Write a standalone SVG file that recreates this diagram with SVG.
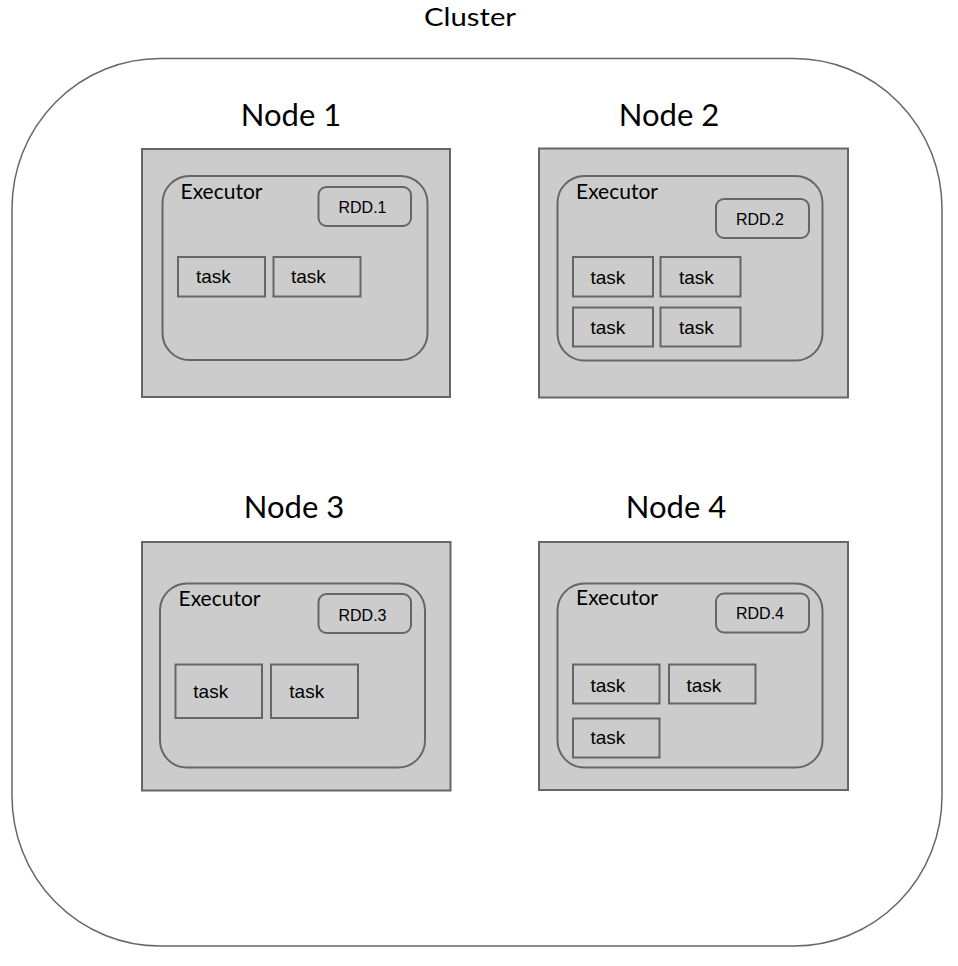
<svg xmlns="http://www.w3.org/2000/svg" width="958" height="966" viewBox="0 0 958 966">
<style>
.title{font-family:Lato,"Open Sans",sans-serif;fill:#000;text-anchor:middle}
.cl{font-size:25.5px}
.nt{font-size:31px}
.box{fill:#cccccc;stroke:#666666;stroke-width:2}
.exec{fill:#cccccc;stroke:#666666;stroke-width:2}
.rdd{fill:#cccccc;stroke:#666666;stroke-width:2}
.task{fill:#cccccc;stroke:#666666;stroke-width:2}
.et{font-family:Lato,"Open Sans",sans-serif;font-size:21px;fill:#000}
.tt{font-family:"Liberation Sans",Arial,sans-serif;font-size:19px;fill:#000}
.rt{font-family:"Liberation Sans",Arial,sans-serif;font-size:16px;fill:#000}
</style>
<rect width="958" height="966" fill="#ffffff"/>
<g id="cluster">
<path d="M160,58.5 H794 A148,150 0 0 1 942,208.5 V796 A148,150 0 0 1 794,946 H160 A148,150 0 0 1 12,796 V208.5 A148,150 0 0 1 160,58.5 Z" fill="#ffffff" stroke="#666666" stroke-width="1.5"/>
<text class="title cl" x="470" y="26" textLength="92" lengthAdjust="spacingAndGlyphs">Cluster</text>
</g>
<g id="connectors"></g>
<g id="node1">
<text class="title nt" x="291" y="126">Node 1</text>
<rect class="box" x="142" y="149" width="308" height="248"/>
<rect class="exec" x="162.5" y="176" width="265" height="184" rx="27"/>
<text class="et" x="180.5" y="199">Executor</text>
<rect class="rdd" x="318.5" y="187" width="92.5" height="39" rx="8"/>
<text class="rt" x="338.5" y="213.3">RDD.1</text>
<rect class="task" x="178" y="257" width="87" height="39.5"/>
<text class="tt" x="196" y="283.3">task</text>
<rect class="task" x="273.5" y="257" width="87" height="39.5"/>
<text class="tt" x="291" y="283.3">task</text>
</g>
<g id="node2">
<text class="title nt" x="669" y="126">Node 2</text>
<rect class="box" x="539" y="148.5" width="309" height="249"/>
<rect class="exec" x="557.5" y="176" width="265" height="184.5" rx="27"/>
<text class="et" x="576" y="199.3">Executor</text>
<rect class="rdd" x="716" y="199" width="93" height="39" rx="8"/>
<text class="rt" x="736" y="225">RDD.2</text>
<rect class="task" x="573" y="257" width="80" height="39.5"/>
<text class="tt" x="590.5" y="284">task</text>
<rect class="task" x="660.5" y="257" width="80" height="39.5"/>
<text class="tt" x="679" y="284">task</text>
<rect class="task" x="573" y="307.5" width="80" height="39"/>
<text class="tt" x="590.5" y="334.3">task</text>
<rect class="task" x="660.5" y="307.5" width="80" height="39"/>
<text class="tt" x="679" y="334.3">task</text>
</g>
<g id="node3">
<text class="title nt" x="294" y="518.3">Node 3</text>
<rect class="box" x="142" y="542" width="308.5" height="248.5"/>
<rect class="exec" x="160" y="583.5" width="265" height="184" rx="27"/>
<text class="et" x="178.5" y="606">Executor</text>
<rect class="rdd" x="318.5" y="594" width="92.5" height="39" rx="8"/>
<text class="rt" x="338.5" y="620.7">RDD.3</text>
<rect class="task" x="175.5" y="664.5" width="86.5" height="53.5"/>
<text class="tt" x="193.3" y="698.3">task</text>
<rect class="task" x="271" y="664.5" width="87" height="53.5"/>
<text class="tt" x="289.3" y="698.3">task</text>
</g>
<g id="node4">
<text class="title nt" x="676" y="518.3">Node 4</text>
<rect class="box" x="539" y="542" width="309" height="248"/>
<rect class="exec" x="557.5" y="583.5" width="265" height="184" rx="27"/>
<text class="et" x="576" y="605">Executor</text>
<rect class="rdd" x="716" y="593.5" width="93" height="39" rx="8"/>
<text class="rt" x="736" y="619.3">RDD.4</text>
<rect class="task" x="573" y="664.5" width="86.5" height="39"/>
<text class="tt" x="590.5" y="691.7">task</text>
<rect class="task" x="669" y="664.5" width="86.5" height="39"/>
<text class="tt" x="686.5" y="691.7">task</text>
<rect class="task" x="573" y="718.5" width="86.5" height="39"/>
<text class="tt" x="590.5" y="744.3">task</text>
</g>
</svg>
